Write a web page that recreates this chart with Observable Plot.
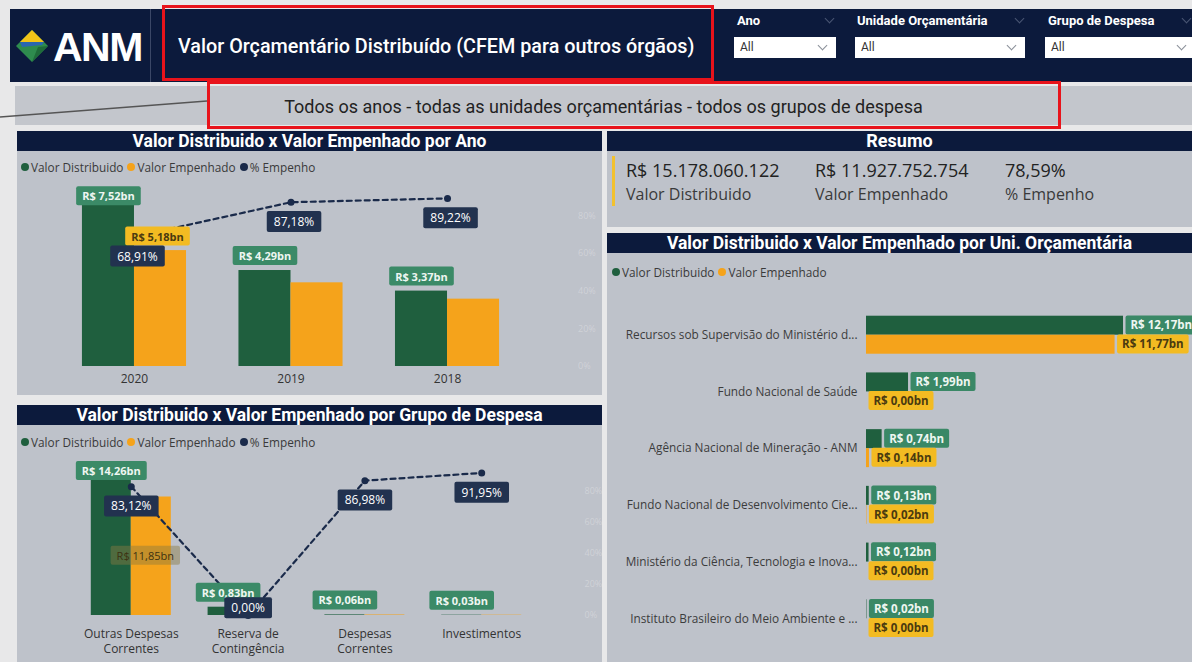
<!DOCTYPE html>
<html><head><meta charset="utf-8">
<script src="https://cdn.jsdelivr.net/npm/d3@7"></script>
<script src="https://cdn.jsdelivr.net/npm/@observablehq/plot@0.6"></script>
<style>
html,body{margin:0;padding:0;}
body{width:1192px;height:662px;background:#e8e8e9;position:relative;overflow:hidden;font-family:"Open Sans",sans-serif;}
.abs{position:absolute;}
.navy{background:#0c1a3c;}
.panel{position:absolute;background:#bec2ca;}
.ptitle{position:absolute;left:0;right:0;top:0;height:20px;background:#0c1a3c;color:#fff;font-family:Roboto,sans-serif;font-weight:bold;font-size:17.5px;text-align:center;line-height:20px;white-space:nowrap;}
.legend{position:absolute;font-family:"Open Sans",sans-serif;font-size:11.8px;color:#3a3a3a;display:flex;align-items:center;white-space:nowrap;}
.legend .it{display:flex;align-items:center;margin-right:4px;}
.legend .sw{display:inline-block;width:8px;height:8px;border-radius:50%;margin-right:2px;}
.flabel{position:absolute;color:#fff;font-family:Roboto,sans-serif;font-weight:bold;font-size:13px;}
.fbox{position:absolute;background:#fff;height:21px;font-family:Roboto,sans-serif;font-size:12px;color:#333;line-height:21px;padding-left:6px;box-sizing:border-box;}
.chev{position:absolute;width:6px;height:6px;border-right:1px solid #8a8f99;border-bottom:1px solid #8a8f99;transform:rotate(45deg);}
.kv{position:absolute;font-family:"Open Sans",sans-serif;font-size:18px;color:#222;}
.kl{position:absolute;font-family:"Open Sans",sans-serif;font-size:16px;color:#3a3a3a;}
.chart{position:absolute;}
</style>
</head><body>
<script>
// ---------- DATA ----------
const anos = ["2020", "2019", "2018"];
const anoDistribuido = [7.52, 4.29, 3.37];      // R$ bn
const anoEmpenhado = [5.18, 3.74, 3.01];        // R$ bn
const anoPctEmpenho = [68.91, 87.18, 89.22];    // %

const grupos = ["Outras Despesas Correntes", "Reserva de Contingência", "Despesas Correntes", "Investimentos"];
const grupoTickLabels = ["Outras Despesas\nCorrentes", "Reserva de\nContingência", "Despesas\nCorrentes", "Investimentos"];
const grupoDistribuido = [14.26, 0.83, 0.06, 0.03];
const grupoEmpenhado = [11.85, 0.00, 0.05, 0.03];
const grupoPctEmpenho = [83.12, 0.00, 86.98, 91.95];

const unidades = [
  "Recursos sob Supervisão do Ministério d...",
  "Fundo Nacional de Saúde",
  "Agência Nacional de Mineração - ANM",
  "Fundo Nacional de Desenvolvimento Cie...",
  "Ministério da Ciência, Tecnologia e Inova...",
  "Instituto Brasileiro do Meio Ambiente e ..."
];
const unidadeDistribuido = [12.17, 1.99, 0.74, 0.13, 0.12, 0.02];
const unidadeEmpenhado = [11.77, 0.00, 0.14, 0.02, 0.00, 0.00];

const resumoValores = ["R$ 15.178.060.122", "R$ 11.927.752.754", "78,59%"];
const resumoRotulos = ["Valor Distribuido", "Valor Empenhado", "% Empenho"];
const pctTicks = [0, 20, 40, 60, 80];

const filtros = ["Ano", "Unidade Orçamentária", "Grupo de Despesa"];
const filtroValores = ["All", "All", "All"];
const tituloPagina = "Valor Orçamentário Distribuído (CFEM para outros órgãos)";
const subtitulo = "Todos os anos - todas as unidades orçamentárias - todos os grupos de despesa";
const seriesLegenda = ["Valor Distribuido", "Valor Empenhado", "% Empenho"];

// ---------- STYLE ----------
const GREEN = "#1f5f3e", ORANGE = "#f5a31b", NAVY = "#1a2a4a";
const GREEN_LBL = "#3b8a67", YELLOW_LBL = "#f3bb22", NAVY_LBL = "#22324f";
const fmtBn = v => "R$ " + v.toFixed(2).replace(".", ",") + "bn";
const fmtPct = v => v.toFixed(2).replace(".", ",") + "%";

function addBoxes(svg, cls, fill, opacity = 1, padX = 5, padY = 2) {
  svg.querySelectorAll(`g.${cls} text`).forEach(t => {
    const b = t.getBBox();
    const r = document.createElementNS("http://www.w3.org/2000/svg", "rect");
    r.setAttribute("x", b.x - padX);
    r.setAttribute("y", b.y - padY);
    r.setAttribute("width", b.width + 2 * padX);
    r.setAttribute("height", b.height + 2 * padY);
    r.setAttribute("rx", 2);
    r.setAttribute("fill", fill);
    r.setAttribute("fill-opacity", opacity);
    r.setAttribute("stroke", "none");
    const tr = t.getAttribute("transform");
    if (tr) r.setAttribute("transform", tr);
    t.parentNode.insertBefore(r, t);
  });
}

function el(tag, cls, style, text) {
  const e = document.createElement(tag);
  if (cls) e.className = cls;
  if (style) e.setAttribute("style", style);
  if (text != null) e.textContent = text;
  document.body.appendChild(e);
  return e;
}

function legend(x, y, items) {
  const L = el("div", "legend", `left:${x}px;top:${y}px;`);
  items.forEach(([name, color]) => {
    const it = document.createElement("span"); it.className = "it";
    const sw = document.createElement("span"); sw.className = "sw"; sw.style.background = color;
    it.appendChild(sw); it.appendChild(document.createTextNode(name));
    L.appendChild(it);
  });
}

// ---------- COMBO (vertical grouped bars + % line) ----------
function combo(o) {
  const rows = o.cats.map((c, i) => ({cat: c, dist: o.dist[i], emp: o.emp[i], pct: o.pct[i]}));
  const n = rows.length;
  const step = (o.W - o.ml - o.mr) / (n + o.pad);
  const bw = step * (1 - o.pad);
  const plotH = o.H - o.mt - o.mb;
  const ppu = plotH / o.yMax;
  const pY = p => p / o.pctTop * o.yMax;
  const tickMap = new Map(o.cats.map((c, i) => [c, o.ticks[i]]));
  const greenAbove = d => d.dist * ppu + 14 + 9 <= plotH;
  const pctBelow = d => pY(d.pct) * ppu - 20 - 9 >= 0;
  const lblStyle = {fontSize: 11, fontWeight: "bold"};
  const chart = Plot.plot({
    width: o.W, height: o.H,
    marginTop: o.mt, marginBottom: o.mb, marginLeft: o.ml, marginRight: o.mr,
    style: {background: "transparent", fontFamily: "Open Sans", overflow: "visible"},
    x: {type: "band", domain: o.cats, padding: o.pad, round: false, axis: null},
    y: {domain: [0, o.yMax], axis: null},
    marks: [
      Plot.axisX({tickSize: 0, tickPadding: o.tickPad, fontSize: o.tickFont, color: "#333", label: null,
        tickFormat: d => tickMap.get(d), lineHeight: 1.25}),
      Plot.axisY({anchor: "right", ticks: pctTicks.map(pY), tickSize: 0, tickPadding: 26, fontSize: 9, label: null,
        color: "rgba(255,255,255,0.28)", tickFormat: d => Math.round(d / o.yMax * o.pctTop) + "%"}),
      Plot.barY(rows, {x: "cat", y: "dist", fill: GREEN, insetRight: bw / 2}),
      Plot.barY(rows, {x: "cat", y: "emp", fill: ORANGE, insetLeft: bw / 2}),
      Plot.line(rows, {x: "cat", y: d => pY(d.pct), stroke: NAVY, strokeWidth: 2.2, strokeDasharray: "5,4"}),
      Plot.dot(rows, {x: "cat", y: d => pY(d.pct), r: 3.5, fill: NAVY}),
      // green labels
      Plot.text(rows, {filter: greenAbove, x: "cat", y: "dist", text: d => fmtBn(d.dist), dx: -bw / 4, dy: -14,
        fill: "#eef6f1", ...lblStyle, className: "lblgreen"}),
      Plot.text(rows, {filter: d => !greenAbove(d), x: "cat", y: "dist", text: d => fmtBn(d.dist), dx: -bw / 4, dy: -1.5,
        fill: "#eef6f1", ...lblStyle, className: "lblgreen"}),
      // orange labels (only the ones shown in the dashboard)
      o.orangeInside
        ? Plot.text(rows, {filter: (d, i) => i === 0, x: "cat", y: d => d.emp / 2, text: d => fmtBn(d.emp), dx: bw / 4 - 6,
            fill: "#3d3212", fontSize: 11, className: "lblorangein"})
        : Plot.text(rows, {filter: (d, i) => i === 0, x: "cat", y: "emp", text: d => fmtBn(d.emp), dx: bw / 4 - 3, dy: -13.5,
            fill: "#4a3a10", ...lblStyle, className: "lblorange"}),
      // percent labels
      Plot.text(rows, {filter: pctBelow, x: "cat", y: d => pY(d.pct), text: d => fmtPct(d.pct), dx: o.pctDx, dy: 20,
        fill: "#ffffff", fontSize: 12, className: "lblpct"}),
      Plot.text(rows, {filter: d => !pctBelow(d), x: "cat", y: d => pY(d.pct), text: d => fmtPct(d.pct), dy: -7,
        fill: "#ffffff", fontSize: 12, className: "lblpct"})
    ]
  });
  const wrap = el("div", "chart", `left:${o.left}px;top:${o.top}px;`);
  wrap.appendChild(chart);
  addBoxes(chart, "lblgreen", GREEN_LBL, 1, 6, 2);
  addBoxes(chart, "lblorange", YELLOW_LBL, 1, 6, 2);
  addBoxes(chart, "lblorangein", "#8a7a40", 0.45, 6, 2);
  addBoxes(chart, "lblpct", NAVY_LBL, 1, 7, 2);
}

// ---------- HORIZONTAL GROUPED BARS ----------
function hbars(o) {
  const rows = o.cats.map((c, i) => ({cat: c, dist: o.dist[i], emp: o.emp[i]}));
  const n = rows.length;
  const step = (o.H - o.mt - o.mb) / (n + o.pad);
  const bw = step * (1 - o.pad);
  const chart = Plot.plot({
    width: o.W, height: o.H,
    marginTop: o.mt, marginBottom: o.mb, marginLeft: o.ml, marginRight: o.mr,
    style: {background: "transparent", fontFamily: "Open Sans", overflow: "visible"},
    y: {type: "band", domain: o.cats, padding: o.pad, round: false, axis: null},
    x: {domain: [0, o.xMax], axis: null},
    marks: [
      Plot.axisY({tickSize: 0, tickPadding: 9, fontSize: 11.8, color: "#3c3c3c", label: null}),
      Plot.barX(rows, {y: "cat", x: "dist", fill: GREEN, insetBottom: bw / 2}),
      Plot.barX(rows, {y: "cat", x: "emp", fill: ORANGE, insetTop: bw / 2}),
      Plot.text(rows, {y: "cat", x: "dist", text: d => fmtBn(d.dist), textAnchor: "start", dx: 7, dy: -bw / 4,
        fill: "#eef6f1", fontSize: 11.5, fontWeight: "bold", className: "hgreen"}),
      Plot.text(rows, {y: "cat", x: "emp", text: d => fmtBn(d.emp), textAnchor: "start", dx: 7, dy: bw / 4,
        fill: "#4a3a10", fontSize: 11.5, fontWeight: "bold", className: "horange"})
    ]
  });
  const wrap = el("div", "chart", `left:${o.left}px;top:${o.top}px;`);
  wrap.appendChild(chart);
  addBoxes(chart, "hgreen", "#3a8866", 1, 5, 2);
  addBoxes(chart, "horange", YELLOW_LBL, 1, 5, 2);
}

// ---------- PAGE ----------
// header
el("div", "abs navy", "left:10px;top:9px;width:1182px;height:73px;");
el("div", "abs", "left:150px;top:9px;width:1px;height:73px;background:#3b4766;");
const logo = el("div", "abs", "left:14px;top:28px;width:36px;height:36px;");
logo.innerHTML = `<svg width="36" height="36" viewBox="0 0 36 36">
<polygon points="18,2 34,18 18,34 2,18" fill="#2e8b4e"/>
<polygon points="18,2 30,14 6,14" fill="#f2c418"/>
<polygon points="6,14 30,14 28,17 8,19" fill="#2a66b0"/>
<polygon points="18,34 34,18 24,19" fill="#1f6b3a"/></svg>`;
el("div", "abs", "left:53px;top:22px;color:#fff;font-family:'Liberation Sans',Arial,sans-serif;font-weight:bold;font-size:41px;letter-spacing:-1.5px;line-height:50px;", "ANM");
el("div", "abs", "left:178px;top:34px;color:#fff;font-family:Roboto,sans-serif;font-weight:500;font-size:19.8px;line-height:26px;white-space:nowrap;", tituloPagina);
el("div", "abs", "left:162px;top:5px;width:546px;height:70px;border:3px solid #e8131b;");

const fx = [[737, 734, 102, 826], [857, 855, 170, 1016], [1048, 1045, 150, 1183]];
filtros.forEach((f, i) => {
  const [lx, bx, bwid, cx] = fx[i];
  el("div", "flabel", `left:${lx}px;top:13px;`, f);
  el("div", "chev", `left:${cx}px;top:15px;border-color:#4a5674;`);
  el("div", "fbox", `left:${bx}px;top:37px;width:${bwid}px;`, filtroValores[i]);
  el("div", "chev", `left:${bx + bwid - 17}px;top:42px;`);
});

// subtitle band
el("div", "abs", "left:15px;top:86px;width:1177px;height:39px;background:#c3c6cc;");
el("div", "abs", "left:15px;top:94px;width:1177px;line-height:26px;text-align:center;font-family:Roboto,sans-serif;font-size:18px;color:#222;white-space:nowrap;", subtitulo);
el("div", "abs", "left:207px;top:81px;width:848px;height:42px;border:3px solid #e8131b;");
const ln = el("div", "abs", "left:0;top:0;width:210px;height:130px;");
ln.innerHTML = `<svg width="210" height="130"><line x1="0" y1="117" x2="207" y2="101" stroke="#555" stroke-width="1.5"/></svg>`;

// panels
const p1 = el("div", "panel", "left:17px;top:131px;width:585px;height:264px;");
const t1 = document.createElement("div"); t1.className = "ptitle"; t1.textContent = "Valor Distribuido x Valor Empenhado por Ano"; p1.appendChild(t1);
const p2 = el("div", "panel", "left:17px;top:405px;width:585px;height:257px;");
const t2 = document.createElement("div"); t2.className = "ptitle"; t2.textContent = "Valor Distribuido x Valor Empenhado por Grupo de Despesa"; p2.appendChild(t2);
const p3 = el("div", "panel", "left:607px;top:131px;width:585px;height:96px;");
const t3 = document.createElement("div"); t3.className = "ptitle"; t3.textContent = "Resumo"; t3.style.fontSize = "18px"; p3.appendChild(t3);
const p4 = el("div", "panel", "left:607px;top:233px;width:585px;height:429px;");
const t4 = document.createElement("div"); t4.className = "ptitle"; t4.textContent = "Valor Distribuido x Valor Empenhado por Uni. Orçamentária"; p4.appendChild(t4);

// resumo KPIs
el("div", "abs", "left:612px;top:156px;width:3px;height:50px;background:#f2c12e;");
[626, 815, 1005].forEach((x, i) => {
  el("div", "kv", `left:${x}px;top:158px;`, resumoValores[i]);
  el("div", "kl", `left:${x}px;top:183px;`, resumoRotulos[i]);
});

// legends
legend(21, 159, [[seriesLegenda[0], GREEN], [seriesLegenda[1], ORANGE], [seriesLegenda[2], NAVY]]);
legend(21, 434, [[seriesLegenda[0], GREEN], [seriesLegenda[1], ORANGE], [seriesLegenda[2], NAVY]]);
legend(612, 264, [[seriesLegenda[0], GREEN], [seriesLegenda[1], ORANGE]]);

// charts
combo({cats: anos, ticks: anos, dist: anoDistribuido, emp: anoEmpenhado, pct: anoPctEmpenho,
  left: 17, top: 180, W: 585, H: 215, mt: 7, mb: 29, ml: 12.5, mr: 50.5, pad: 0.335,
  yMax: 8, pctTop: 95, tickPad: 6, tickFont: 12, pctDx: 3, orangeInside: false});

combo({cats: grupos, ticks: grupoTickLabels, dist: grupoDistribuido, emp: grupoEmpenhado, pct: grupoPctEmpenho,
  left: 17, top: 455, W: 585, H: 207, mt: 0, mb: 47, ml: 37, mr: 44, pad: 0.315,
  yMax: 16, pctTop: 103.2, tickPad: 12, tickFont: 12, pctDx: 0, orangeInside: true});

hbars({cats: unidades, dist: unidadeDistribuido, emp: unidadeEmpenhado,
  left: 607, top: 290, W: 585, H: 372, mt: 7, mb: 6, ml: 259, mr: 24, pad: 0.33, xMax: 14.3});
</script>
</body></html>
